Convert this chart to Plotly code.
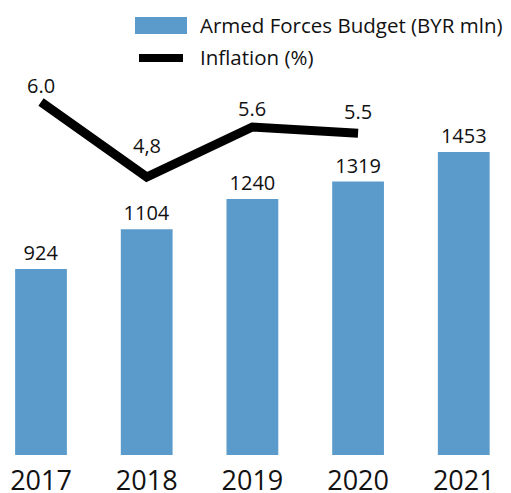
import plotly.graph_objects as go

years = ["2017", "2018", "2019", "2020", "2021"]
budget = [924, 1104, 1240, 1319, 1453]
inflation_years = ["2017", "2018", "2019", "2020"]
inflation = [6.0, 4.8, 5.6, 5.5]
inflation_labels = ["6.0", "4,8", "5.6", "5.5"]

FONT = "Open Sans"
BLUE = "#5b9bcb"
H = 455.0  # plot area height in px (margin top 0)

fig = go.Figure()
fig.add_trace(go.Bar(
    x=years, y=budget, name="Armed Forces Budget (BYR mln)",
    marker=dict(color=BLUE, line=dict(width=0)), width=0.49,
    text=[str(v) for v in budget], textposition="outside",
    textfont=dict(family=FONT, size=20, color="#111"), cliponaxis=True,
    showlegend=False,
))
fig.add_trace(go.Scatter(
    x=inflation_years, y=inflation, name="Inflation (%)", yaxis="y2",
    mode="lines", line=dict(color="black", width=9),
    showlegend=False,
))
shifts = [17, 32, 19, 22]
for i, (yv, lab, s) in enumerate(zip(inflation, inflation_labels, shifts)):
    fig.add_annotation(x=years.index(inflation_years[i]), y=yv, xref="x", yref="y2",
                       text=lab, showarrow=False, yshift=s,
                       font=dict(family=FONT, size=20, color="#111"))

# manual legend
def py(px):
    return 1 - px / H

fig.add_shape(type="rect", xref="paper", yref="paper", x0=135/511, x1=187/511,
              y0=py(34), y1=py(17), fillcolor=BLUE, line=dict(width=0))
fig.add_shape(type="line", xref="paper", yref="paper", x0=139/511, x1=183/511,
              y0=py(58), y1=py(58), line=dict(color="black", width=8))
fig.add_annotation(xref="paper", yref="paper", x=198/511, y=py(25), xanchor="left",
                   yanchor="middle", text="Armed Forces Budget (BYR mln)", showarrow=False,
                   font=dict(family=FONT, size=20.5, color="#111"))
fig.add_annotation(xref="paper", yref="paper", x=198/511, y=py(57), xanchor="left",
                   yanchor="middle", text="Inflation (%)", showarrow=False,
                   font=dict(family=FONT, size=20.5, color="#111"))

fig.update_layout(
    width=511, height=493,
    margin=dict(l=0, r=0, t=0, b=38, autoexpand=False),
    plot_bgcolor="white", paper_bgcolor="white",
    font=dict(family=FONT, color="#111"),
    xaxis=dict(type="category", range=[-0.388, 4.447], showgrid=False, zeroline=False,
               showline=False, ticks="", ticklabelstandoff=7, automargin=False,
               tickfont=dict(family=FONT, size=27, color="#111")),
    yaxis=dict(range=[83, 2140], showticklabels=False, showgrid=False, zeroline=False,
               showline=False, ticks="", automargin=False),
    yaxis2=dict(range=[0.352, 7.632], overlaying="y", showticklabels=False, showgrid=False,
                zeroline=False, showline=False, ticks="", automargin=False),
)
fig.write_html("out.html", config={"displayModeBar": False},
               post_script="document.body.style.margin='0';")
